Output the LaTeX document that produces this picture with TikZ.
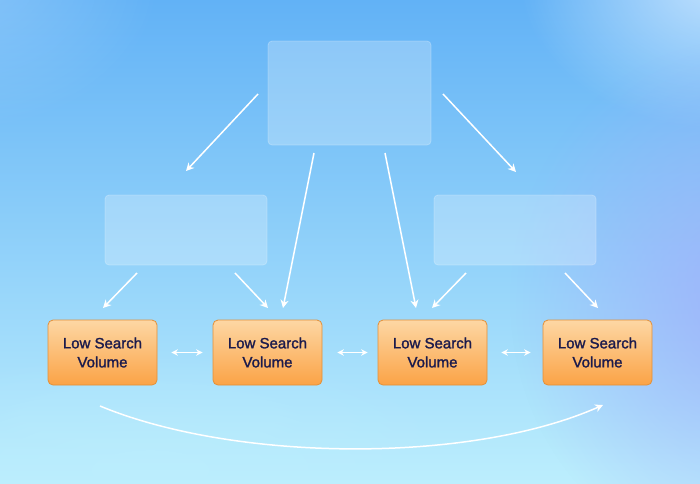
\documentclass[tikz,border=0pt]{standalone}
\usepackage{fontspec}
\setmainfont{Liberation Sans}
\newfontfamily\medfont[FakeBold=1.6]{Liberation Sans}
\usetikzlibrary{arrows.meta,fadings,shadings}
\definecolor{bgtop}{HTML}{62B2F6}
\definecolor{bgbot}{HTML}{BCEEFD}
\definecolor{bgpurp}{HTML}{9FAEFA}
\definecolor{bglight}{HTML}{CFE8FF}
\definecolor{orTop}{HTML}{FDD7A4}
\definecolor{orBot}{HTML}{FBA346}
\definecolor{orEdge}{HTML}{E39038}
\definecolor{navy}{HTML}{1C1B4C}
\tikzfading[name=softc, inner color=transparent!0, outer color=transparent!100]
\tikzset{
  glass/.style={rounded corners=4pt, fill=white, fill opacity=0.24, draw=white, draw opacity=0.25, line width=0.8pt},
  kw/.style={rounded corners=5pt, draw=orEdge, line width=0.8pt, top color=orTop, bottom color=orBot,
    minimum width=109pt, minimum height=65pt, align=center, text=navy, font=\medfont\fontsize{15}{19}\selectfont, inner sep=0pt},
  wa/.style={draw=white, line width=1.5pt, -{Stealth[length=8pt,width=8pt]}},
  wd/.style={draw=white, line width=1.5pt, {Stealth[length=6.5pt,width=6.5pt]}-{Stealth[length=6.5pt,width=6.5pt]}},
}
\begin{document}
\begin{tikzpicture}[x=1pt,y=-1pt]
\useasboundingbox (0,0) rectangle (700,483);
\begin{scope}
\clip (0,0) rectangle (700,483);
\shade[top color=bgtop, bottom color=bgbot] (0,0) rectangle (700,483);
\fill[bglight, path fading=softc, opacity=0.9] (720,-20) ellipse (200 and 150);
\fill[bgpurp, path fading=softc, opacity=0.85] (740,300) ellipse (230 and 260);
\fill[bglight, path fading=softc, opacity=0.35] (-40,-20) ellipse (200 and 150);
\fill[bgbot, path fading=softc, opacity=0.6] (150,470) ellipse (350 and 120);
\end{scope}
% glass boxes
\node[glass, minimum width=163pt, minimum height=104pt, inner sep=0pt] (top) at (349.5,93) {};
\node[glass, minimum width=162pt, minimum height=70pt, inner sep=0pt] (ml) at (186,230) {};
\node[glass, minimum width=162pt, minimum height=70pt, inner sep=0pt] (mr) at (515,230) {};
% orange boxes
\node[kw] (k1) at (102.5,352.5) {Low Search\\Volume};
\node[kw] (k2) at (267.5,352.5) {Low Search\\Volume};
\node[kw] (k3) at (432.5,352.5) {Low Search\\Volume};
\node[kw] (k4) at (597.5,352.5) {Low Search\\Volume};
% coordinates for arrow ends
\coordinate (t1s) at (258,94);  \coordinate (t1e) at (186,171);
\coordinate (t2s) at (314,153); \coordinate (t2e) at (283,308);
\coordinate (t3s) at (385,153); \coordinate (t3e) at (416,308);
\coordinate (t4s) at (443,94);  \coordinate (t4e) at (516,172);
\coordinate (l1s) at (137,273); \coordinate (l1e) at (103,308);
\coordinate (l2s) at (235,273); \coordinate (l2e) at (268,308);
\coordinate (r1s) at (466,273); \coordinate (r1e) at (432,308);
\coordinate (r2s) at (565,273); \coordinate (r2e) at (598,308);
\draw[wa] (t1s) -- (t1e);
\draw[wa] (t2s) -- (t2e);
\draw[wa] (t3s) -- (t3e);
\draw[wa] (t4s) -- (t4e);
\draw[wa] (l1s) -- (l1e);
\draw[wa] (l2s) -- (l2e);
\draw[wa] (r1s) -- (r1e);
\draw[wa] (r2s) -- (r2e);
% double arrows
\draw[wd] ([xshift=14pt]k1.east) -- ([xshift=-10pt]k2.west);
\draw[wd] ([xshift=15pt]k2.east) -- ([xshift=-10pt]k3.west);
\draw[wd] ([xshift=14pt]k3.east) -- ([xshift=-12pt]k4.west);
% bottom curve
\coordinate (cs) at (100,406);
\coordinate (ce) at (603,405);
\draw[wa] (cs) .. controls (235,462) and (470,464) .. (ce);
\end{tikzpicture}
\end{document}
